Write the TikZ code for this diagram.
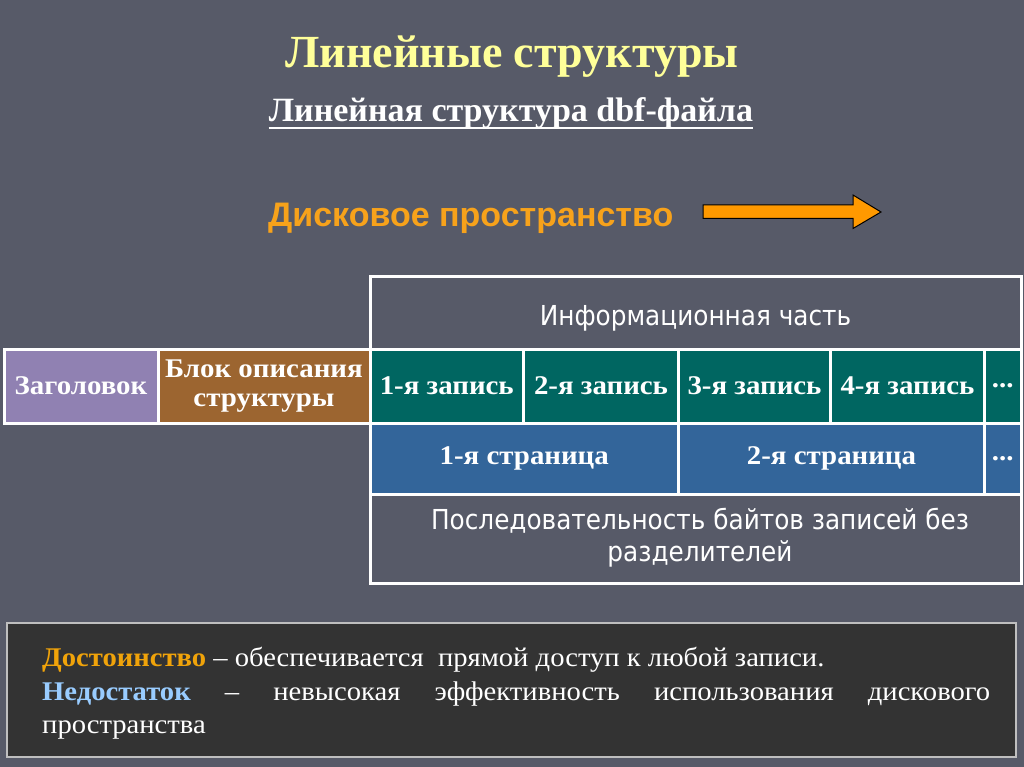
\documentclass[tikz,border=0pt]{standalone}
\usepackage{fontspec}
\setmainfont{Liberation Serif}
\newfontfamily\tahoma[FakeStretch=0.9]{DejaVu Sans}
\newfontfamily\arial{Liberation Sans}
\newfontfamily\cellfont[FakeStretch=1.07]{Liberation Serif}
\newfontfamily\bodyfont[FakeStretch=1.06]{Liberation Serif}
\definecolor{bgc}{HTML}{575A68}
\definecolor{ttl}{HTML}{FFFF99}
\definecolor{org}{HTML}{F7A21B}
\definecolor{arr}{HTML}{FF9900}
\definecolor{purp}{HTML}{9081B2}
\definecolor{brn}{HTML}{9C6530}
\definecolor{teal}{HTML}{006661}
\definecolor{blu}{HTML}{33659A}
\definecolor{boxc}{HTML}{333333}
\definecolor{lblue}{HTML}{99CCFF}
\definecolor{gold}{HTML}{F0A30A}
\tikzset{
  cell/.style={draw=white, line width=3pt, inner sep=0pt, text=white, align=center,
    font=\fontsize{27}{29}\cellfont\bfseries},
  sanscell/.style={draw=white, line width=3pt, inner sep=0pt},
  stxt/.style={anchor=base, inner sep=0pt, text=white, font=\fontsize{27.5}{32}\tahoma},
  btxt/.style={anchor=base west, inner sep=0pt, text=white, font=\fontsize{27}{30}\bodyfont}
}
\begin{document}
\begin{tikzpicture}[x=1pt,y=-1pt]
\fill[bgc] (0,0) rectangle (1024,767);
\useasboundingbox (0,0) rectangle (1024,767);
% titles
\node[text=ttl, font=\fontsize{46}{50}\selectfont\bfseries, anchor=base, inner sep=0pt] (title) at (512,68) {Линейные структуры};
\node[text=white, font=\fontsize{34}{38}\selectfont\bfseries, anchor=base, inner sep=0pt] (sub) at (511,122) {Линейная структура dbf-файла};
\draw[white, line width=2.5pt] ([yshift=-6pt]sub.base west) -- ([yshift=-6pt]sub.base east);
\node[text=org, font=\fontsize{34}{38}\selectfont\arial\bfseries, anchor=base west, inner sep=0pt] (disk) at (268,226) {Дисковое пространство};
\draw[fill=arr, draw=black, line width=1pt] (703,205) -- (853,205) -- (853,195) -- (881,212) -- (853,228.5) -- (853,218.5) -- (703,218.5) -- cycle;
% table
\node[sanscell, minimum width=651pt, minimum height=73pt] (info) at (695.5,312.5) {};
\node[stxt] (infot) at (695.5,325) {Информационная часть};
\node[cell, fill=purp, minimum width=154pt, minimum height=74pt] (zag) at (81,386) {Заголовок};
\node[cell, fill=brn, minimum width=212pt, minimum height=74pt] (blk) at (264,386) {Блок описания\\структуры};
\node[cell, fill=teal, minimum width=153.5pt, minimum height=74pt] (r1) at (446.75,386) {1-я запись};
\node[cell, fill=teal, minimum width=155pt, minimum height=74pt] (r2) at (601,386) {2-я запись};
\node[cell, fill=teal, minimum width=152pt, minimum height=74pt] (r3) at (754.5,386) {3-я запись};
\node[cell, fill=teal, minimum width=154pt, minimum height=74pt] (r4) at (907.5,386) {4-я запись};
\node[cell, fill=teal, minimum width=36.5pt, minimum height=74pt] (rd) at (1002.75,386) {...};
\node[cell, fill=blu, minimum width=308.5pt, minimum height=71.5pt] (p1) at (524.25,458.75) {1-я страница};
\node[cell, fill=blu, minimum width=306pt, minimum height=71.5pt] (p2) at (831.5,458.75) {2-я страница};
\node[cell, fill=blu, minimum width=36.5pt, minimum height=71.5pt] (pd) at (1002.75,458.75) {...};
\node[sanscell, minimum width=651pt, minimum height=88.5pt] (seq) at (695.5,538.75) {};
\node[stxt] (seq1) at (700,529) {Последовательность байтов записей без};
\node[stxt] (seq2) at (700,561) {разделителей};
% bottom box
\node[draw=white!75!black, fill=boxc, line width=1.5pt, minimum width=1009pt, minimum height=134pt, inner sep=0pt] (box) at (511.5,690) {};
\node[btxt] (l1) at (42,666) {\textcolor{gold}{\bfseries Достоинство} – обеспечивается\ \ прямой доступ к любой записи.};
\node[btxt] (l2) at (42,700) {\makebox[948pt][s]{\textcolor{lblue}{\bfseries Недостаток} – невысокая эффективность использования дискового}};
\node[btxt] (l3) at (42,733) {пространства};
\end{tikzpicture}
\end{document}
